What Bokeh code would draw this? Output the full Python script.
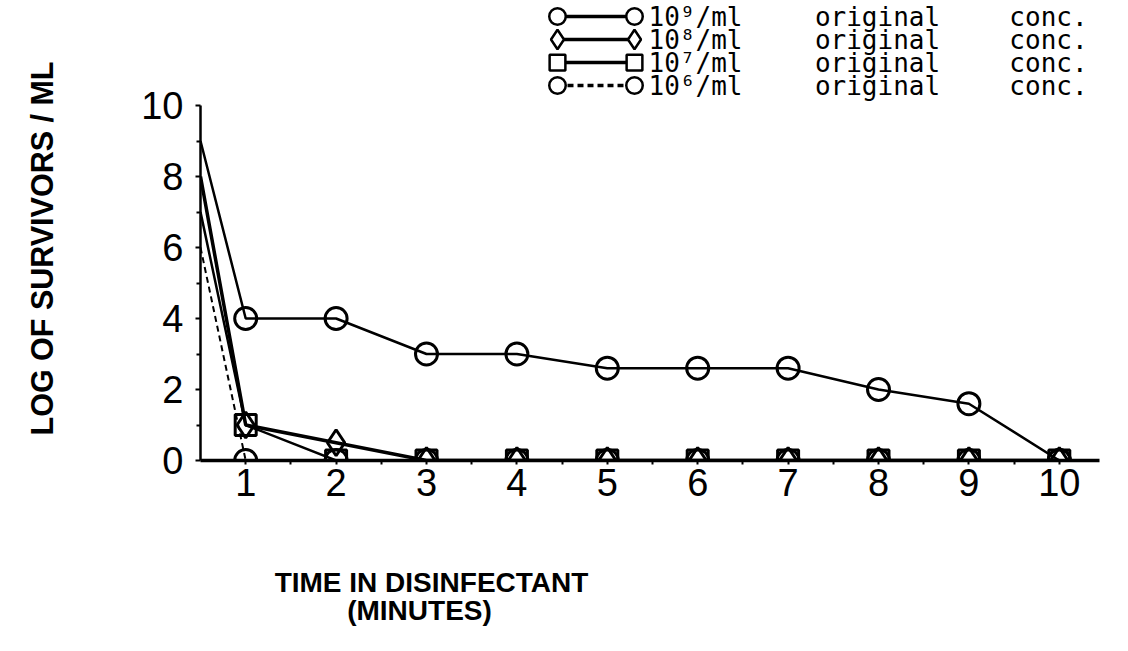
import math
from bokeh.plotting import figure
from bokeh.layouts import row, column
from bokeh.models import Range1d, FixedTicker
from bokeh.embed import file_html
from bokeh.resources import INLINE
from bokeh.core.properties import value

# ---------------- data ----------------
# first point = initial count, plotted on the y axis (start of the time axis)
times = [0.5, 1, 2, 3, 4, 5, 6, 7, 8, 9, 10]
conc_1e9 = [9, 4, 4, 3, 3, 2.6, 2.6, 2.6, 2.0, 1.6, 0]
conc_1e8 = [8, 1, 0.5, 0, 0, 0, 0, 0, 0, 0, 0]
conc_1e7 = [7, 1, 0, 0, 0, 0, 0, 0, 0, 0, 0]
conc_1e6 = [6, 0, 0, 0, 0, 0, 0, 0, 0, 0, 0]
legend_conc = ["10\u2079/ml", "10\u2078/ml", "10\u2077/ml", "10\u2076/ml"]
legend_words = ["original", "conc."]
x_ticks = [1, 2, 3, 4, 5, 6, 7, 8, 9, 10]
y_ticks = [0, 2, 4, 6, 8, 10]
x_title = "TIME IN DISINFECTANT"
x_subtitle = "(MINUTES)"
y_title = "LOG OF SURVIVORS / ML"

# ---------------- layout (page pixels) ----------------
TOTAL_W, TOTAL_H = 1120, 645
YW = 70                        # width of the strip holding the y title
MAIN_H = 520                   # height of the main plot
FL_PAGE, FR_PAGE, FB_PAGE = 200, 1114, 460
SX, SY = 90.4, 35.5            # pixels per data unit
X0 = 0.5

MW = TOTAL_W - YW
FL, FR, FT, FB = FL_PAGE - YW, FR_PAGE - YW, 0, FB_PAGE


def dx(px):  # page x -> data x (main plot)
    return X0 + (px - FL_PAGE) / SX


def dy(py):  # page y -> data y (main plot)
    return (FB_PAGE - py) / SY


def style_blank(f):
    f.outline_line_color = None
    f.xgrid.visible = False
    f.ygrid.visible = False
    f.background_fill_color = "white"
    f.border_fill_color = "white"
    return f


p = figure(width=MW, height=MAIN_H,
           x_range=Range1d(X0, X0 + (FR - FL) / SX),
           y_range=Range1d(0, (FB - FT) / SY),
           output_backend="svg", toolbar_location=None,
           min_border_left=FL, min_border_right=MW - FR,
           min_border_top=FT, min_border_bottom=MAIN_H - FB)
style_blank(p)

# y axis
ya = p.yaxis[0]
ya.bounds = (0, 10)
ya.ticker = FixedTicker(ticks=y_ticks, minor_ticks=[1, 3, 5, 7, 9])
ya.axis_line_width = 2.5
ya.major_tick_in = 0
ya.major_tick_out = 5
ya.minor_tick_in = 0
ya.minor_tick_out = 4
ya.major_tick_line_width = 2
ya.minor_tick_line_width = 2
ya.major_label_text_font = "Liberation Sans"
ya.major_label_text_font_size = "38px"
ya.major_label_text_color = "black"
ya.major_label_standoff = 12

# x axis
xa = p.xaxis[0]
xa.bounds = (X0, 10.45)
xa.ticker = FixedTicker(ticks=x_ticks, minor_ticks=[t + 0.5 for t in range(1, 10)])
xa.axis_line_width = 3.5
xa.major_tick_in = 0
xa.major_tick_out = 4
xa.minor_tick_in = 0
xa.minor_tick_out = 4
xa.major_tick_line_width = 2
xa.minor_tick_line_width = 2
xa.major_label_text_font = "Liberation Sans"
xa.major_label_text_font_size = "38px"
xa.major_label_text_color = "black"
xa.major_label_standoff = 4

# ---------------- series ----------------
series = [
    (conc_1e9, "circle", 2.5, "solid", 22),
    (conc_1e8, "diamond", 3.5, "solid", 26),
    (conc_1e7, "square", 2.5, "solid", 21),
    (conc_1e6, "circle", 2.0, "6 4", 22),
]
for ys, mk, lw, dash, sz in series:
    p.line(times, ys, line_color="black", line_width=lw, line_dash=dash)
for ys, mk, lw, dash, sz in series:
    p.scatter(times[1:], ys[1:], marker=mk, size=sz, line_color="black",
              line_width=3, fill_alpha=0)

# ---------------- legend (drawn by hand) ----------------
leg_y = [16, 39, 62, 85]
leg_xa, leg_xb = 557, 634
word_cx = [695, 877, 1048]
leg_font = value("DejaVu Sans Mono")
for (ys, mk, lw, dash, sz), lab, py in zip(series, legend_conc, leg_y):
    yy = dy(py)
    p.line([dx(leg_xa), dx(leg_xb)], [yy, yy], line_color="black",
           line_width=3.5, line_dash=dash)
    p.scatter([dx(leg_xa), dx(leg_xb)], [yy, yy], marker=mk, size=sz * 0.75,
              line_color="black", line_width=2.5, fill_color="white")
    for wx, word in zip(word_cx, [lab] + legend_words):
        p.text([dx(wx)], [yy], text=[word], text_baseline="middle",
               text_align="center", text_font=leg_font,
               text_font_size=value("26px"), text_color="black")

# ---------------- y title strip ----------------
yfig = style_blank(figure(width=YW, height=TOTAL_H,
                          x_range=Range1d(0, YW), y_range=Range1d(0, TOTAL_H),
                          output_backend="svg", toolbar_location=None,
                          min_border=0, x_axis_location=None,
                          y_axis_location=None))
yfig.text([41], [TOTAL_H - 248], text=[y_title], angle=math.pi / 2,
          text_align="center", text_baseline="middle",
          text_font=value("Liberation Sans"), text_font_style="bold",
          text_font_size=value("30.5px"), text_color="black")

# ---------------- x title strip (frame aligned with the main frame) ----------------
XH = TOTAL_H - MAIN_H
xfig = style_blank(figure(width=MW, height=XH,
                          x_range=Range1d(FL_PAGE, FR_PAGE),
                          y_range=Range1d(TOTAL_H, MAIN_H),
                          output_backend="svg", toolbar_location=None,
                          min_border_left=FL, min_border_right=MW - FR,
                          min_border_top=0, min_border_bottom=0,
                          x_axis_location=None, y_axis_location=None))
xfig.text([431], [582], text=[x_title],
          text_align="center", text_baseline="middle",
          text_font=value("Liberation Sans"), text_font_style="bold",
          text_font_size=value("28px"), text_color="black")
xfig.text([419], [610], text=[x_subtitle],
          text_align="center", text_baseline="middle",
          text_font=value("Liberation Sans"), text_font_style="bold",
          text_font_size=value("28px"), text_color="black")

layout = row(yfig, column(p, xfig, spacing=0), spacing=0)
open("out.html", "w").write(file_html(layout, INLINE))
